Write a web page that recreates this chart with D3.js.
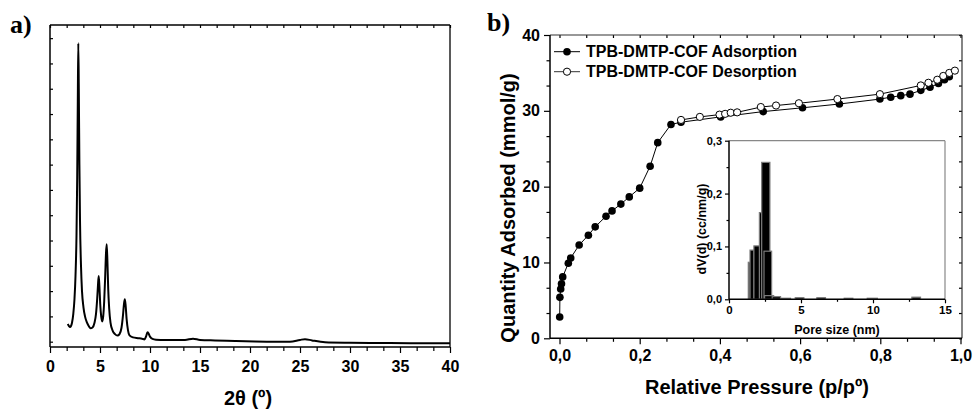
<!DOCTYPE html>
<html>
<head>
<meta charset="utf-8">
<script src="https://cdn.jsdelivr.net/npm/d3@7"></script>
<style>
  body { margin: 0; background: #fff; }
  svg { display: block; }
  text { font-family: "Liberation Sans", Arial, sans-serif; font-weight: bold; fill: #000; }
  .tick line { stroke: #000; stroke-width: 1.2; }
</style>
</head>
<body>
<svg id="chart" width="975" height="409"></svg>
<script>
// ---- a) powder XRD pattern (2θ in degrees, intensity in arbitrary units) ----
const xrdTheta = [1.77, 1.9, 2.0, 2.1, 2.2, 2.33, 2.45, 2.55, 2.65, 2.72, 2.78, 2.83, 2.88, 2.94, 3.0, 3.1, 3.2, 3.35, 3.5, 3.7, 3.9, 4.05, 4.25, 4.45, 4.6, 4.72, 4.8, 4.87, 4.94, 5.02, 5.12, 5.22, 5.32, 5.42, 5.52, 5.6, 5.67, 5.74, 5.82, 5.92, 6.05, 6.25, 6.5, 6.75, 6.95, 7.15, 7.3, 7.4, 7.48, 7.56, 7.66, 7.8, 7.95, 8.3, 8.8, 9.2, 9.45, 9.6, 9.75, 9.85, 10.0, 10.25, 10.6, 11.5, 12.5, 13.5, 14.3, 15.0, 16.5, 18.5, 20.5, 22.5, 24.0, 25.0, 25.5, 26.2, 27.5, 30, 33, 36, 40];
const xrdIntensity = [0.70, 0.62, 0.58, 0.62, 0.75, 1.1, 1.7, 2.6, 4.2, 6.5, 9.5, 11.8, 10.0, 7.0, 4.8, 3.0, 2.0, 1.35, 1.0, 0.75, 0.6, 0.53, 0.56, 0.75, 1.1, 1.7, 2.25, 2.6, 2.2, 1.5, 1.0, 0.8, 1.0, 1.6, 2.6, 3.5, 3.85, 3.2, 2.1, 1.3, 0.75, 0.45, 0.3, 0.24, 0.3, 0.55, 1.05, 1.5, 1.68, 1.45, 0.9, 0.45, 0.25, 0.17, 0.14, 0.12, 0.09, 0.2, 0.37, 0.33, 0.2, 0.11, 0.08, 0.07, 0.07, 0.07, 0.12, 0.07, 0.05, 0.03, 0.01, 0.0, 0.0, 0.07, 0.1, 0.05, -0.02, -0.04, -0.05, -0.06, -0.06];
const thetaTicks = [0, 5, 10, 15, 20, 25, 30, 35, 40];

// ---- b) N2 isotherm (relative pressure, quantity adsorbed in mmol/g) ----
const adsP = [0.0005, 0.001, 0.003, 0.005, 0.008, 0.022, 0.028, 0.049, 0.072, 0.089, 0.116, 0.131, 0.153, 0.174, 0.2, 0.226, 0.245, 0.278, 0.303, 0.402, 0.508, 0.606, 0.698, 0.799, 0.826, 0.851, 0.874, 0.901, 0.924, 0.945, 0.96, 0.972];
const adsQ = [2.8, 5.4, 6.5, 7.2, 8.1, 9.9, 10.6, 12.3, 13.6, 14.7, 16.1, 16.8, 17.7, 18.65, 19.8, 22.7, 25.8, 28.2, 28.5, 29.2, 29.9, 30.4, 30.9, 31.55, 31.8, 32.0, 32.2, 32.7, 33.1, 33.6, 34.1, 34.5];
const desP = [0.986, 0.972, 0.957, 0.942, 0.92, 0.901, 0.799, 0.693, 0.597, 0.54, 0.502, 0.443, 0.427, 0.413, 0.399, 0.35, 0.303];
const desQ = [35.3, 35.0, 34.6, 34.1, 33.7, 33.35, 32.2, 31.55, 31.0, 30.7, 30.5, 29.8, 29.75, 29.6, 29.5, 29.2, 28.8];
const pTicks = [0, 0.2, 0.4, 0.6, 0.8, 1.0];
const qTicks = [0, 10, 20, 30, 40];
const seriesNames = ["TPB-DMTP-COF Adsorption", "TPB-DMTP-COF Desorption"];

// ---- inset: pore size distribution (nm, cc/nm/g) ----
const poreFrom = [1.34, 1.46, 1.73, 2.11, 2.27, 2.43, 2.47, 3.0, 3.58, 4.6, 6.1, 8.0, 9.6, 12.7];
const poreTo   = [1.46, 1.73, 2.15, 2.27, 2.84, 2.96, 3.1, 3.58, 4.27, 5.2, 6.7, 8.6, 10.3, 13.3];
const poreDV   = [0.070, 0.093, 0.101, 0.164, 0.259, 0.091, 0.007, 0.005, 0.002, 0.003, 0.003, 0.002, 0.002, 0.004];
const poreTicks = [0, 5, 10, 15];
const dvTicks = [0, 0.1, 0.2, 0.3];

const svg = d3.select("#chart");
const comma = d3.formatLocale({ decimal: ",", thousands: ".", grouping: [3], currency: ["", ""] });
const f1 = comma.format(".1f");

// minor ticks: n subdivisions between consecutive majors
function minors(major, n) {
  const out = [];
  for (let i = 0; i < major.length - 1; i++) {
    const step = (major[i + 1] - major[i]) / n;
    for (let k = 1; k < n; k++) out.push(major[i] + k * step);
  }
  return out;
}

function drawAxis(g, axisFn, scale, values, size, fmt, pad, fontSize) {
  const ax = axisFn(scale).tickValues(values).tickSize(size).tickSizeOuter(0)
    .tickPadding(pad).tickFormat(fmt);
  g.call(ax);
  g.select(".domain").remove();
  g.selectAll("text").style("font-size", fontSize + "px");
  return g;
}

function frame(g, x0, x1, y0, y1, topColor, w) {
  g.append("line").attr("x1", x0).attr("x2", x1).attr("y1", y0).attr("y2", y0).attr("stroke", topColor).attr("stroke-width", w);
  g.append("line").attr("x1", x1).attr("x2", x1).attr("y1", y0).attr("y2", y1).attr("stroke", topColor).attr("stroke-width", w);
  g.append("line").attr("x1", x0).attr("x2", x0).attr("y1", y0).attr("y2", y1).attr("stroke", "#000").attr("stroke-width", 1.5);
  g.append("line").attr("x1", x0).attr("x2", x1).attr("y1", y1).attr("y2", y1).attr("stroke", "#000").attr("stroke-width", 1.5);
}

// ================= panel a =================
{
  const L = 50, R = 450, T = 25, B = 347;
  const x = d3.scaleLinear().domain([0, 40]).range([L, R]);
  const y = d3.scaleLinear().domain([-0.21, 12.52]).range([B, T]);
  const g = svg.append("g");

  const yMarks = d3.range(0, 13);
  drawAxis(g.append("g").attr("transform", `translate(${L},0)`), d3.axisLeft, y, yMarks, -3, "", 0, 1)
    .selectAll("line").attr("stroke", "#555");
  drawAxis(g.append("g").attr("transform", `translate(0,${T})`), d3.axisTop, x, thetaTicks.concat(minors(thetaTicks, 3)), -3, "", 0, 1)
    .selectAll("line").attr("stroke", "#555");
  drawAxis(g.append("g").attr("transform", `translate(0,${B})`), d3.axisBottom, x, minors(thetaTicks, 3), 4, "", 0, 1);
  drawAxis(g.append("g").attr("transform", `translate(0,${B})`), d3.axisBottom, x, thetaTicks, 6, d3.format("d"), 7.5, 16);

  frame(g, L, R, T, B, "#000", 1.3);

  const line = d3.line().x((d, i) => x(xrdTheta[i])).y(d => y(d)).curve(d3.curveMonotoneX);
  g.append("path").attr("d", line(xrdIntensity)).attr("fill", "none")
    .attr("stroke", "#000").attr("stroke-width", 2).attr("stroke-linejoin", "round");

  g.append("text").attr("x", (L + R) / 2 - 2).attr("y", 405).attr("text-anchor", "middle")
    .style("font-size", "20px").text("2θ (º)");
  g.append("text").attr("x", 10).attr("y", 33)
    .style("font-family", "'Liberation Serif', 'Times New Roman', serif").style("font-size", "26px").text("a)");
}

// ================= panel b =================
{
  const L = 550, R = 962, T = 35, B = 338.3;
  const x = d3.scaleLinear().domain([0, 1]).range([559.5, 960.5]);
  const y = d3.scaleLinear().domain([0, 40]).range([B, T]);
  const g = svg.append("g");

  const xMin = minors(pTicks, 3), yMin = minors(qTicks, 3);
  drawAxis(g.append("g").attr("transform", `translate(0,${T})`), d3.axisTop, x, pTicks.concat(xMin), -3, "", 0, 1)
    .selectAll("line").attr("stroke", "#555");
  drawAxis(g.append("g").attr("transform", `translate(${R},0)`), d3.axisRight, y, qTicks.concat(yMin), -3, "", 0, 1)
    .selectAll("line").attr("stroke", "#555");
  drawAxis(g.append("g").attr("transform", `translate(0,${B})`), d3.axisBottom, x, xMin, 3.5, "", 0, 1);
  drawAxis(g.append("g").attr("transform", `translate(0,${B})`), d3.axisBottom, x, pTicks, 6, f1, 5, 16);
  drawAxis(g.append("g").attr("transform", `translate(${L},0)`), d3.axisLeft, y, yMin, 3.5, "", 0, 1);
  drawAxis(g.append("g").attr("transform", `translate(${L},0)`), d3.axisLeft, y, qTicks, 6, d3.format("d"), 4, 16);

  frame(g, L, R, T, B, "#333", 1.2);

  const line = d3.line().x(d => x(d[0])).y(d => y(d[1]));
  const ads = adsP.map((p, i) => [p, adsQ[i]]);
  const des = desP.map((p, i) => [p, desQ[i]]).sort((a, b) => a[0] - b[0]);

  g.append("path").attr("d", line(ads)).attr("fill", "none").attr("stroke", "#000").attr("stroke-width", 1);
  g.append("path").attr("d", line(des)).attr("fill", "none").attr("stroke", "#000").attr("stroke-width", 1);
  g.selectAll("circle.ads").data(ads).join("circle").attr("class", "ads")
    .attr("cx", d => x(d[0])).attr("cy", d => y(d[1])).attr("r", 3.8).attr("fill", "#000");
  g.selectAll("circle.des").data(des).join("circle").attr("class", "des")
    .attr("cx", d => x(d[0])).attr("cy", d => y(d[1])).attr("r", 3.6)
    .attr("fill", "#fff").attr("stroke", "#000").attr("stroke-width", 1);

  // legend
  seriesNames.forEach((name, i) => {
    const ly = 51.7 + i * 20;
    g.append("line").attr("x1", 554).attr("x2", 580).attr("y1", ly).attr("y2", ly)
      .attr("stroke", i === 0 ? "#000" : "#333").attr("stroke-width", 1);
    g.append("circle").attr("cx", 567).attr("cy", ly).attr("r", i === 0 ? 3.8 : 3.6)
      .attr("fill", i === 0 ? "#000" : "#fff").attr("stroke", "#000").attr("stroke-width", i === 0 ? 0 : 1);
    g.append("text").attr("x", 586).attr("y", ly + 5.6).style("font-size", "16px").text(name);
  });

  g.append("text").attr("x", 757).attr("y", 394).attr("text-anchor", "middle")
    .style("font-size", "20px").text("Relative Pressure (p/pº)");
  g.append("text").attr("transform", "translate(515,208) rotate(-90)").attr("text-anchor", "middle")
    .style("font-size", "20px").text("Quantity Adsorbed (mmol/g)");
  g.append("text").attr("x", 487).attr("y", 31)
    .style("font-family", "'Liberation Serif', 'Times New Roman', serif").style("font-size", "26px").text("b)");

  // ---------- inset ----------
  const iL = 729, iR = 945, iT = 140.7, iB = 299.3;
  const xi = d3.scaleLinear().domain([0, 15]).range([iL, iR]);
  const yi = d3.scaleLinear().domain([0, 0.3]).range([iB, iT]);
  const gi = g.append("g");
  gi.append("rect").attr("x", iL).attr("y", iT).attr("width", iR - iL).attr("height", iB - iT).attr("fill", "#fff");

  gi.selectAll("rect.bar").data(poreDV).join("rect").attr("class", "bar")
    .attr("x", (d, i) => xi(poreFrom[i]))
    .attr("width", (d, i) => xi(poreTo[i]) - xi(poreFrom[i]))
    .attr("y", d => yi(d))
    .attr("height", d => yi(0) - yi(d))
    .attr("fill", "#000").attr("stroke", "#7a7a7a").attr("stroke-width", 1.2);

  drawAxis(gi.append("g").attr("transform", `translate(0,${iB})`), d3.axisBottom, xi, minors(poreTicks, 2), 2.5, "", 0, 1);
  drawAxis(gi.append("g").attr("transform", `translate(0,${iB})`), d3.axisBottom, xi, poreTicks, 4, d3.format("d"), 3, 11.5);
  drawAxis(gi.append("g").attr("transform", `translate(${iL},0)`), d3.axisLeft, yi, minors(dvTicks, 2), 2.5, "", 0, 1);
  drawAxis(gi.append("g").attr("transform", `translate(${iL},0)`), d3.axisLeft, yi, dvTicks, 4, f1, 3, 11);
  frame(gi, iL, iR, iT, iB, "#888", 1.2);

  gi.append("text").attr("x", 837).attr("y", 333.5).attr("text-anchor", "middle")
    .style("font-size", "12.5px").text("Pore size (nm)");
  gi.append("text").attr("transform", "translate(706,229) rotate(-90)").attr("text-anchor", "middle")
    .style("font-size", "12.5px").text("dV(d) (cc/nm/g)");
}
</script>
</body>
</html>
